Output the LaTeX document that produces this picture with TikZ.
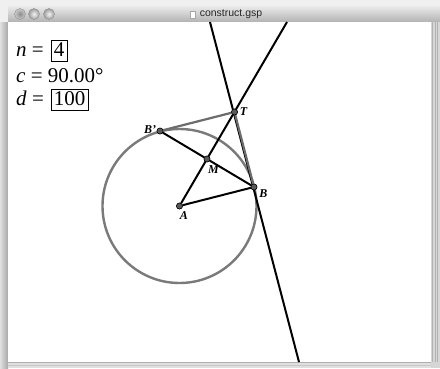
\documentclass[tikz,border=0pt]{standalone}
\usepackage{fontspec}
\setmainfont{Liberation Serif}
\newfontfamily\titlefont{Liberation Sans}
\usetikzlibrary{calc,positioning}
\definecolor{segGray}{HTML}{6C6C6C}
\definecolor{circGray}{HTML}{7A7A7A}
\tikzset{
	pt/.style={circle,fill=black!65,draw=black,line width=0.5pt,inner sep=0pt,minimum size=6pt},
	lbl/.style={font=\fontsize{12}{13}\selectfont\bfseries\itshape,inner sep=0pt},
	val/.style={font=\fontsize{21}{23}\selectfont,inner sep=0pt,anchor=base west},
	valbox/.style={draw,line width=0.7pt,font=\fontsize{21}{23}\selectfont,inner xsep=3pt,inner ysep=3pt,text height=13pt,text depth=2.6pt,anchor=base west},
	btn/.style={circle,draw=black!45,inner color=white!95!black,outer color=white!62!black,minimum size=11pt,inner sep=0pt}
}
\begin{document}
\begin{tikzpicture}[x=1pt,y=-1pt]
	\useasboundingbox (0,0) rectangle (440,368);
	% window frame
	\fill[white!94!black] (0,0) rectangle (440,368);
	\shade[left color=white!88!black, right color=white!66!black] (0,22) rectangle (8,368);
	\shade[top color=white!92!black, bottom color=white!70!black] (8,6) rectangle (440,22);
	\draw[white!45!black, line width=0.8pt] (8,22) -- (440,22);
	\fill[white] (8,22.4) rectangle (431,362);
	\fill[white!84!black] (431,22.4) rectangle (440,368);
	\foreach \x in {432.5,435,437.5}{
		\draw[white!70!black, line width=0.6pt] (\x,22.4) -- (\x,362);
	}
	\fill[white!88!black] (8,362) rectangle (431,368);
	\draw[white!68!black, line width=0.8pt] (8,362.4) -- (431,362.4);
	\draw[white!78!black, line width=0.6pt] (8,365.5) -- (431,365.5);
	\node[btn, inner color=black!45, outer color=black!20] (close) at (20,14) {};
	\node[btn] (mini) at (34,14) {};
	\node[btn] (zoom) at (49,14) {};
	\node[font=\titlefont\fontsize{10.5}{12}\selectfont, text=black!85, inner sep=0pt] (title) at (231,14.5) {construct.gsp};
	\node[draw=black!35, fill=white, minimum width=5pt, minimum height=7pt, inner sep=0pt, left=4pt of title] (icon) {};
	% parameters
	\node[val] (nlab) at (16,56) {\textit{n} =};
	\node[valbox] (nbox) at (50.5,56) {4};
	\node[val] (clab) at (16,82) {\textit{c} = 90.00°};
	\node[val] (dlab) at (16,105) {\textit{d} =};
	\node[valbox] (dbox) at (50.5,105) {100};
	% construction
	\coordinate (tanTop) at (210,22);
	\coordinate (tanBot) at (299,362);
	\coordinate (rayTop) at (287,22);
	\node[pt] (A) at (179.5,206) {};
	\node[pt] (B) at (254,187) {};
	\node[pt] (Bp) at (160,131) {};
	\node[pt] (M) at (207,159) {};
	\node[pt] (T) at (234.5,112) {};
	\draw[circGray, line width=2.4pt] (A) circle (77);
	\draw[black, line width=2pt] (tanTop) -- (tanBot);
	\draw[black, line width=2pt] (A) -- (rayTop);
	\draw[black, line width=2pt] (A) -- (B);
	\draw[black, line width=2pt] (Bp) -- (M) -- (B);
	\draw[segGray, line width=2.2pt] (T) -- (B);
	\draw[segGray, line width=2.2pt] (T) -- (Bp);
	\foreach \p in {A,B,Bp,M,T}{
		\node[pt] at (\p) {};
	}
	\node[lbl] (labA) at (184,215.5) {A};
	\node[lbl] (labB) at (263.5,193.5) {B};
	\node[lbl] (labBp) at (150,129.5) {B'};
	\node[lbl] (labM) at (213.5,169.5) {M};
	\node[lbl] (labT) at (243.5,111.5) {T};
\end{tikzpicture}
\end{document}
